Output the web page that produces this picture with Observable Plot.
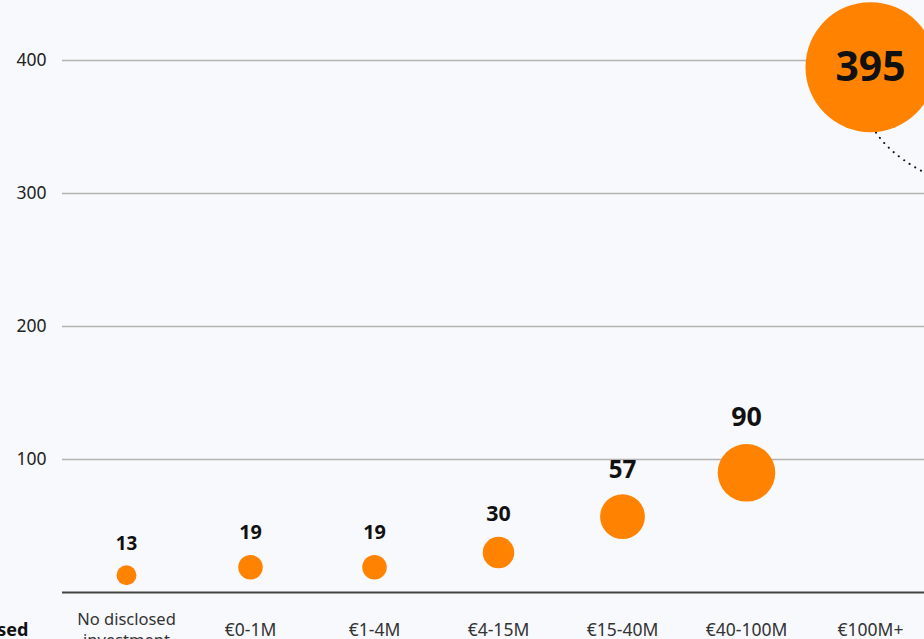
<!DOCTYPE html>
<html>
<head>
<meta charset="utf-8">
<script src="https://cdn.jsdelivr.net/npm/d3@7"></script>
<script src="https://cdn.jsdelivr.net/npm/@observablehq/plot@0.6"></script>
<style>
  html, body { margin: 0; padding: 0; background: #f8f9fd; overflow: hidden; width: 924px; height: 639px; }
  #chart { width: 924px; height: 639px; overflow: hidden; }
</style>
</head>
<body>
<div id="chart"></div>
<script>
// ---- data ----
const categories = ["No disclosed investment", "€0-1M", "€1-4M", "€4-15M", "€15-40M", "€40-100M", "€100M+"];
const xTickLabels = ["No disclosed\ninvestment", "€0-1M", "€1-4M", "€4-15M", "€15-40M", "€40-100M", "€100M+"];
const counts = [13, 19, 19, 30, 57, 90, 395];
const yTicks = [100, 200, 300, 400];
const sideLabel = ["Raised"];
const annotation = [{cat: "€100M+", value: 395}];

const rows = categories.map((c, i) => ({cat: c, value: counts[i]}));
const maxV = d3.max(counts);

const ORANGE = "#ff8300";
const FONT = "'Noto Sans', 'Open Sans', sans-serif";

const rScale = d3.scalePow().exponent(0.55).domain([0, maxV]).range([0, 65]);
const labelSize = v => 14 + 1.35 * Math.sqrt(v);

const valueLabels = rows.map(row => {
  const fs = labelSize(row.value);
  const inside = row.value === maxV;
  return Plot.text([row], {
    x: "cat", y: "value", text: d => String(d.value),
    fontSize: fs, fontWeight: 700, fill: "#111",
    dy: inside ? 1 : -(rScale(row.value) + 10 + fs * 0.6)
  });
});

// dotted annotation curve leaving the largest bubble
function annotationMark(index, scales, values, dimensions) {
  const sx = scales.x, sy = scales.y;
  const g = d3.create("svg:g");
  for (const a of annotation) {
    const cx = (typeof sx === "function" ? sx(a.cat) : sx.apply(a.cat));
    const cy = (typeof sy === "function" ? sy(a.value) : sy.apply(a.value));
    const r = rScale(a.value);
    const p = d3.path();
    p.moveTo(cx + 6, cy + r + 1);
    p.quadraticCurveTo(cx + 33, cy + r + 41, cx + 118, cy + r + 65);
    g.append("path")
      .attr("d", p.toString())
      .attr("fill", "none")
      .attr("stroke", "#111")
      .attr("stroke-width", 2)
      .attr("stroke-linecap", "round")
      .attr("stroke-dasharray", "0.1 6.5");
  }
  return g.node();
}

const chart = Plot.plot({
  width: 934,
  height: 639,
  marginLeft: 62,
  marginRight: 0,
  marginTop: 60,
  marginBottom: 47,
  style: {background: "#f8f9fd", fontFamily: FONT, maxWidth: "none", overflow: "hidden"},
  x: {type: "point", domain: categories, padding: 0.5, axis: null},
  y: {domain: [0, 400], axis: null},
  r: {type: "pow", exponent: 0.55, domain: [0, maxV], range: [0, 65]},
  marks: [
    Plot.ruleY(yTicks, {stroke: "#b3b3b3", strokeWidth: 1.5}),
    Plot.ruleY([0], {stroke: "#444", strokeWidth: 2}),
    Plot.text(yTicks, {y: d => d, text: d => String(d), frameAnchor: "left", dx: -16, textAnchor: "end", fontSize: 17.5, fill: "#222"}),
    Plot.text(categories, {
      x: d => d,
      text: (d, i) => xTickLabels[i],
      frameAnchor: "bottom", dy: 36, lineAnchor: "middle", lineHeight: 1.3,
      fontSize: d => d === categories[0] ? 16.5 : 17.5, fill: "#333"
    }),
    Plot.text(sideLabel, {text: d => d, frameAnchor: "bottom-left", dx: -34, dy: 43, textAnchor: "end", fontWeight: 700, fontSize: 18, fill: "#111"}),
    annotationMark,
    Plot.dot(rows, {x: "cat", y: "value", r: "value", fill: ORANGE}),
    ...valueLabels
  ]
});

document.getElementById("chart").appendChild(chart);
</script>
</body>
</html>
